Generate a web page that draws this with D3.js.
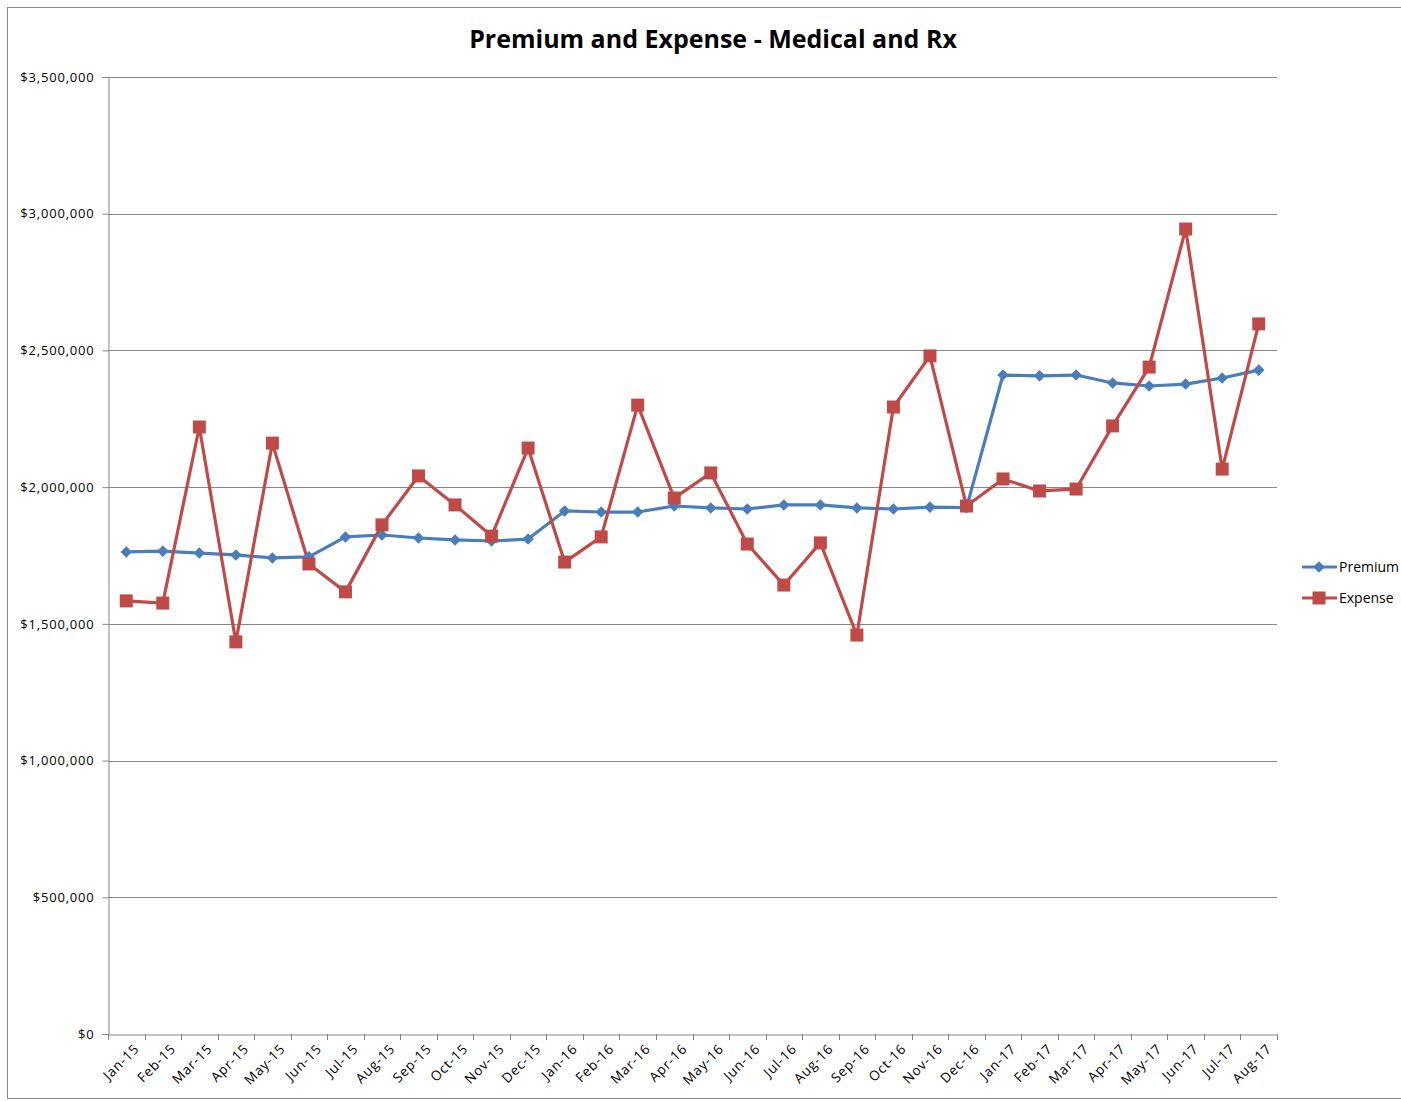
<!DOCTYPE html>
<html>
<head>
<meta charset="utf-8">
<script src="https://cdn.jsdelivr.net/npm/d3@7"></script>
<style>
  body { margin: 0; background: #fff; }
  text { font-family: "Open Sans", sans-serif; }
</style>
</head>
<body>
<div id="chart"></div>
<script>
var months = ['Jan-15', 'Feb-15', 'Mar-15', 'Apr-15', 'May-15', 'Jun-15', 'Jul-15', 'Aug-15',
  'Sep-15', 'Oct-15', 'Nov-15', 'Dec-15', 'Jan-16', 'Feb-16', 'Mar-16', 'Apr-16',
  'May-16', 'Jun-16', 'Jul-16', 'Aug-16', 'Sep-16', 'Oct-16', 'Nov-16', 'Dec-16',
  'Jan-17', 'Feb-17', 'Mar-17', 'Apr-17', 'May-17', 'Jun-17', 'Jul-17', 'Aug-17']

var premium = [1763000, 1766000, 1759000, 1752000, 1741000, 1745000, 1818000, 1825000,
  1814000, 1807000, 1803000, 1810000, 1913000, 1909000, 1909000, 1931000,
  1924000, 1920000, 1935000, 1935000, 1924000, 1920000, 1927000, 1925000,
  2410000, 2407000, 2410000, 2381000, 2370000, 2377000, 2399000, 2428000]

var expense = [1584000, 1576000, 2220000, 1434000, 2161000, 1719000, 1617000, 1862000,
  2041000, 1935000, 1821000, 2143000, 1726000, 1818000, 2300000, 1960000,
  2052000, 1792000, 1642000, 1796000, 1459000, 2293000, 2480000, 1931000,
  2030000, 1986000, 1993000, 2224000, 2439000, 2944000, 2066000, 2597000]

var yTicks = [0, 500000, 1000000, 1500000, 2000000, 2500000, 3000000, 3500000]

var w = 1401
var h = 1101
var pLeft = 108
var pRight = 1277
var pTop = 77
var pBottom = 1034

var svg = d3.select('#chart')
  .append('svg')
  .attr('width', w)
  .attr('height', h)

// chart border
svg.append('rect')
  .attr('x', 7.5)
  .attr('y', 7.5)
  .attr('width', w + 10)
  .attr('height', 1091)
  .attr('fill', 'none')
  .attr('stroke', '#888')

var x = d3.scaleBand()
  .domain(months)
  .range([pLeft, pRight])

var y = d3.scaleLinear()
  .domain([0, 3500000])
  .range([pBottom, pTop])

var fmt = d3.format('$,')

// gridlines
svg.append('g')
  .selectAll('line')
  .data(yTicks.slice(1))
  .enter()
  .append('line')
  .attr('x1', pLeft)
  .attr('x2', pRight)
  .attr('y1', function (d) { return Math.round(y(d)) + 0.5 })
  .attr('y2', function (d) { return Math.round(y(d)) + 0.5 })
  .attr('stroke', '#868686')
  .attr('stroke-width', 1)

// y axis
var yAxis = svg.append('g')
  .attr('transform', 'translate(' + (pLeft + 0.5) + ',0)')
  .call(d3.axisLeft(y).tickValues(yTicks).tickFormat(fmt).tickSize(6).tickPadding(8))
yAxis.selectAll('path, line').attr('stroke', '#868686')
yAxis.selectAll('text')
  .attr('font-size', 13)
  .attr('letter-spacing', 0.8)
  .attr('fill', '#000')
  .style('font-family', '"Open Sans", sans-serif')

// x axis
var xAxis = svg.append('g')
  .attr('transform', 'translate(0,' + (pBottom + 0.5) + ')')
  .call(d3.axisBottom(x).tickSize(0).tickFormat(''))
xAxis.select('path').attr('stroke', '#868686')
xAxis.selectAll('.tick').remove()

// category boundary ticks
var bounds = months.map(function (m) { return x(m) }).concat([pRight])
svg.append('g')
  .selectAll('line')
  .data(bounds)
  .enter()
  .append('line')
  .attr('x1', function (d) { return Math.round(d) + 0.5 })
  .attr('x2', function (d) { return Math.round(d) + 0.5 })
  .attr('y1', pBottom)
  .attr('y2', pBottom + 6)
  .attr('stroke', '#868686')

svg.append('g')
  .selectAll('text')
  .data(months)
  .enter()
  .append('text')
  .attr('transform', function (d) {
    return 'translate(' + (x(d) + x.bandwidth() / 2 + 7) + ',' + (pBottom + 9) + ') rotate(-45)'
  })
  .attr('text-anchor', 'end')
  .attr('dy', '0.7em')
  .attr('font-size', 13.5)
  .attr('letter-spacing', 0.8)
  .text(function (d) { return d })

var cx = function (d, i) { return x(months[i]) + x.bandwidth() / 2 }

var line = d3.line()
  .x(function (d, i) { return cx(d, i) })
  .y(function (d) { return y(d) })

var blue = '#4a7ebb'
var red = '#be4b48'

svg.append('path')
  .attr('d', line(premium))
  .attr('fill', 'none')
  .attr('stroke', blue)
  .attr('stroke-width', 3.2)
  .attr('stroke-linejoin', 'round')

svg.append('path')
  .attr('d', line(expense))
  .attr('fill', 'none')
  .attr('stroke', red)
  .attr('stroke-width', 3.2)
  .attr('stroke-linejoin', 'round')

var diamond = d3.symbol().type(d3.symbolDiamond2).size(85)

svg.append('g')
  .selectAll('path')
  .data(premium)
  .enter()
  .append('path')
  .attr('d', diamond)
  .attr('transform', function (d, i) { return 'translate(' + cx(d, i) + ',' + y(d) + ')' })
  .attr('fill', blue)

svg.append('g')
  .selectAll('rect')
  .data(expense)
  .enter()
  .append('rect')
  .attr('x', function (d, i) { return cx(d, i) - 6.5 })
  .attr('y', function (d) { return y(d) - 6.5 })
  .attr('width', 13)
  .attr('height', 13)
  .attr('fill', red)

// title
svg.append('text')
  .attr('x', 713)
  .attr('y', 48)
  .attr('text-anchor', 'middle')
  .attr('font-size', 25)
  .attr('font-weight', 'bold')
  .text('Premium and Expense - Medical and Rx')

// legend
var legend = [['Premium', blue, 'diamond'], ['Expense', red, 'square']]
var lg = svg.append('g')
legend.forEach(function (l, i) {
  var ly = 567 + i * 31
  lg.append('line')
    .attr('x1', 1302).attr('x2', 1337)
    .attr('y1', ly).attr('y2', ly)
    .attr('stroke', l[1])
    .attr('stroke-width', 3)
  if (l[2] === 'diamond') {
    lg.append('path')
      .attr('d', diamond)
      .attr('transform', 'translate(1319,' + ly + ')')
      .attr('fill', l[1])
  } else {
    lg.append('rect')
      .attr('x', 1312.5).attr('y', ly - 6.5)
      .attr('width', 13).attr('height', 13)
      .attr('fill', l[1])
  }
  lg.append('text')
    .attr('x', 1339)
    .attr('y', ly + 5)
    .attr('font-size', 14)
    .text(l[0])
})
</script>
</body>
</html>
